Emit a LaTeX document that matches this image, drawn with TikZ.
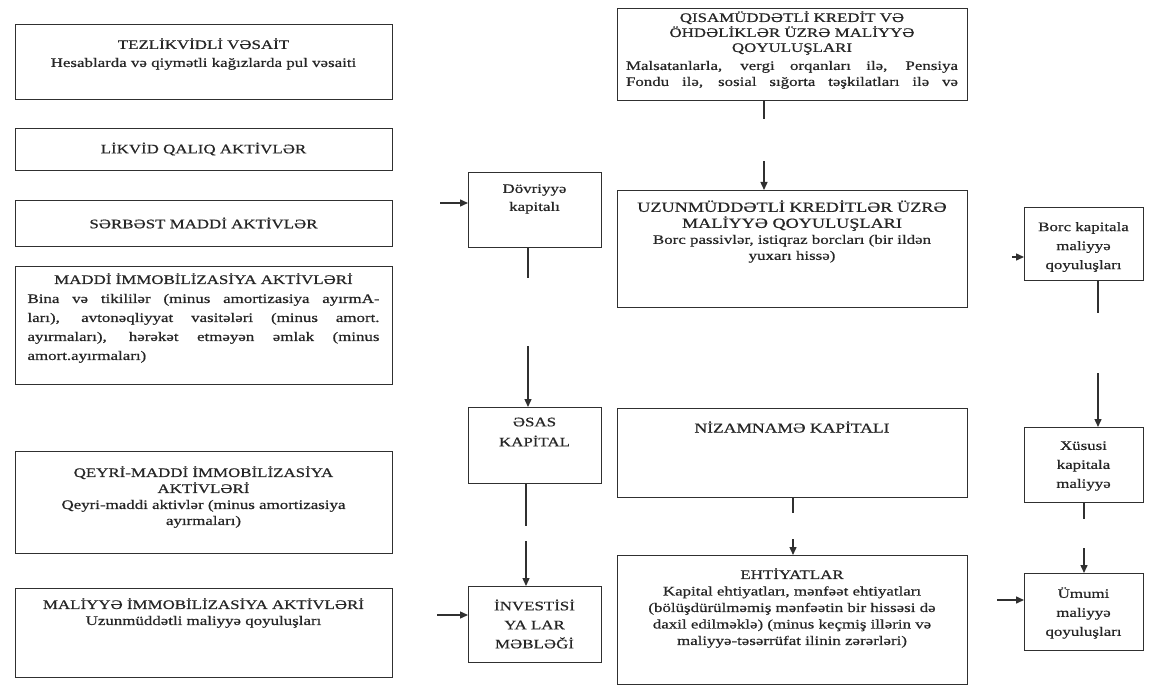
\documentclass[tikz,border=0pt]{standalone}
\usepackage{fontspec}
\setmainfont{Liberation Serif}[FakeStretch=1.3,FakeBold=0.6]
\usetikzlibrary{arrows.meta}
\definecolor{ink}{HTML}{303030}
\definecolor{txtc}{HTML}{262626}
\newcommand\fsz[1]{\fontsize{13}{#1}\selectfont}

\begin{document}
\begin{tikzpicture}[x=1pt,y=-1pt,
  box/.style={draw=ink, line width=1.4pt, inner sep=0pt, anchor=north west, fill=white},
  txt/.style={text=txtc, align=center, inner sep=0pt, font=\fsz{17}},
  conn/.style={draw=ink, line width=1.4pt, -{Triangle[length=8pt,width=7pt]}},
]
\useasboundingbox[fill=white] (0,0) rectangle (1150,687);

% ---- left column: asset groups ----
\node[box, minimum width=377pt, minimum height=75pt]  (tez)     at (15,24)  {};
\node[box, minimum width=377pt, minimum height=42pt]  (likvid)  at (15,128) {};
\node[box, minimum width=377pt, minimum height=46pt]  (serbest) at (15,200) {};
\node[box, minimum width=377pt, minimum height=118pt] (maddi)   at (15,266) {};
\node[box, minimum width=377pt, minimum height=102pt] (qeyri)   at (15,451) {};
\node[box, minimum width=377pt, minimum height=89pt]  (maliyye) at (15,588) {};

\node[txt, font=\fsz{18}] (tez-t) at (203.5,54)
  {TEZLİKVİDLİ VƏSAİT\\Hesablarda və qiymətli kağızlarda pul vəsaiti};
\node[txt] (likvid-t)  at (203.5,149) {LİKVİD QALIQ AKTİVLƏR};
\node[txt] (serbest-t) at (203.5,223) {SƏRBƏST MADDİ AKTİVLƏR};
\node[txt, font=\fsz{19}] (maddi-t) at (203.5,318)
  {MADDİ İMMOBİLİZASİYA AKTİVLƏRİ\\
   \parbox[t]{352pt}{\fsz{19}Bina və tikililər (minus amortizasiya ayırmA-\linebreak
   ları), avtonəqliyyat vasitələri (minus amort.\linebreak
   ayırmaları), hərəkət etməyən əmlak (minus\linebreak
   amort.ayırmaları)}};
\node[txt, font=\fsz{16}] (qeyri-t) at (203.5,497)
  {QEYRİ-MADDİ İMMOBİLİZASİYA\\AKTİVLƏRİ\\Qeyri-maddi aktivlər (minus amortizasiya\\ayırmaları)};
\node[txt, font=\fsz{16}] (maliyye-t) at (203.5,613)
  {MALİYYƏ İMMOBİLİZASİYA AKTİVLƏRİ\\Uzunmüddətli maliyyə qoyuluşları};

% ---- middle column: capital totals ----
\node[box, minimum width=133pt, minimum height=75pt] (dov)  at (468,172) {};
\node[box, minimum width=133pt, minimum height=76pt] (esas) at (468,407) {};
\node[box, minimum width=133pt, minimum height=76pt] (inv)  at (468,586) {};

\node[txt, font=\fsz{18}] (dov-t)  at (534.5,199) {Dövriyyə\\kapitalı};
\node[txt, font=\fsz{20}] (esas-t) at (534.5,432) {ƏSAS\\KAPİTAL};
\node[txt, font=\fsz{19}] (inv-t)  at (534.5,624) {İNVESTİSİ\\YA LAR\\MƏBLƏĞİ};

% ---- liabilities and equity ----
\node[box, minimum width=350pt, minimum height=92pt]  (qisa) at (617,8)   {};
\node[box, minimum width=350pt, minimum height=117pt] (uzun) at (617,190) {};
\node[box, minimum width=350pt, minimum height=89pt]  (niz)  at (617,408) {};
\node[box, minimum width=350pt, minimum height=129pt] (eht)  at (617,555) {};

\node[txt, font=\fsz{15}] (qisa-t) at (792,50)
  {QISAMÜDDƏTLİ KREDİT VƏ\\ÖHDƏLİKLƏR ÜZRƏ MALİYYƏ\\QOYULUŞLARI\\[3pt]
   \parbox[t]{332pt}{\fsz{16}\parfillskip=0pt Malsatanlarla, vergi orqanları ilə, Pensiya\linebreak
   Fondu ilə, sosial sığorta təşkilatları ilə və}};
\node[txt, font=\fsz{16}] (uzun-t) at (792,231.5)
  {\fontsize{14}{16}\selectfont UZUNMÜDDƏTLİ KREDİTLƏR ÜZRƏ\\\fontsize{14}{16}\selectfont MALİYYƏ QOYULUŞLARI\\Borc passivlər, istiqraz borcları (bir ildən\\yuxarı hissə)};
\node[txt] (niz-t) at (792,427) {\fontsize{13.5}{16}\selectfont NİZAMNAMƏ KAPİTALI};
\node[txt, font=\fsz{16.5}] (eht-t) at (792,608)
  {EHTİYATLAR\\Kapital ehtiyatları, mənfəət ehtiyatları\\(bölüşdürülməmiş mənfəətin bir hissəsi də\\daxil edilməklə) (minus keçmiş illərin və\\maliyyə-təsərrüfat ilinin zərərləri)};

% ---- right column: investment totals ----
\node[box, minimum width=119pt, minimum height=73pt] (borc)  at (1024,207) {};
\node[box, minimum width=119pt, minimum height=75pt] (xus)   at (1024,427) {};
\node[box, minimum width=119pt, minimum height=77pt] (umumi) at (1024,573) {};

\node[txt, font=\fsz{19}] (borc-t)  at (1083.5,247) {Borc kapitala\\maliyyə\\qoyuluşları};
\node[txt, font=\fsz{19}] (xus-t)   at (1083.5,466) {Xüsusi\\kapitala\\maliyyə};
\node[txt, font=\fsz{19}] (umumi-t) at (1083.5,613) {Ümumi\\maliyyə\\qoyuluşları};

% ---- connectors (the printed lines are broken part way) ----
\coordinate (x-dov)  at (528,0);
\coordinate (x-esas) at (526,0);
\coordinate (x-qisa) at (764,0);
\coordinate (x-niz)  at (793,0);
\coordinate (x-borc) at (1098,0);
\coordinate (x-xus)  at (1084,0);

\draw[conn, dash pattern=on 30pt off 68pt on 300pt] (dov.south -| x-dov) -- (esas.north -| x-dov);
\draw[conn, dash pattern=on 42pt off 15pt on 300pt] (esas.south -| x-esas) -- (inv.north -| x-esas);
\draw[conn, dash pattern=on 18pt off 42pt on 300pt] (qisa.south -| x-qisa) -- (uzun.north -| x-qisa);
\draw[conn, dash pattern=on 15pt off 26pt on 300pt] (niz.south -| x-niz) -- (eht.north -| x-niz);
\draw[conn, dash pattern=on 32pt off 60pt on 300pt] (borc.south -| x-borc) -- (xus.north -| x-borc);
\draw[conn, dash pattern=on 16pt off 29pt on 300pt] (xus.south -| x-xus) -- (umumi.north -| x-xus);

% incoming arrows
\coordinate (in-dov)   at (440,203);
\coordinate (in-inv)   at (437,615);
\coordinate (in-borc)  at (1012,257);
\coordinate (in-umumi) at (997,600);
\draw[conn] (in-dov) -- (in-dov -| dov.west);
\draw[conn] (in-inv) -- (in-inv -| inv.west);
\draw[conn] (in-borc) -- (in-borc -| borc.west);
\draw[conn] (in-umumi) -- (in-umumi -| umumi.west);
\end{tikzpicture}
\end{document}
